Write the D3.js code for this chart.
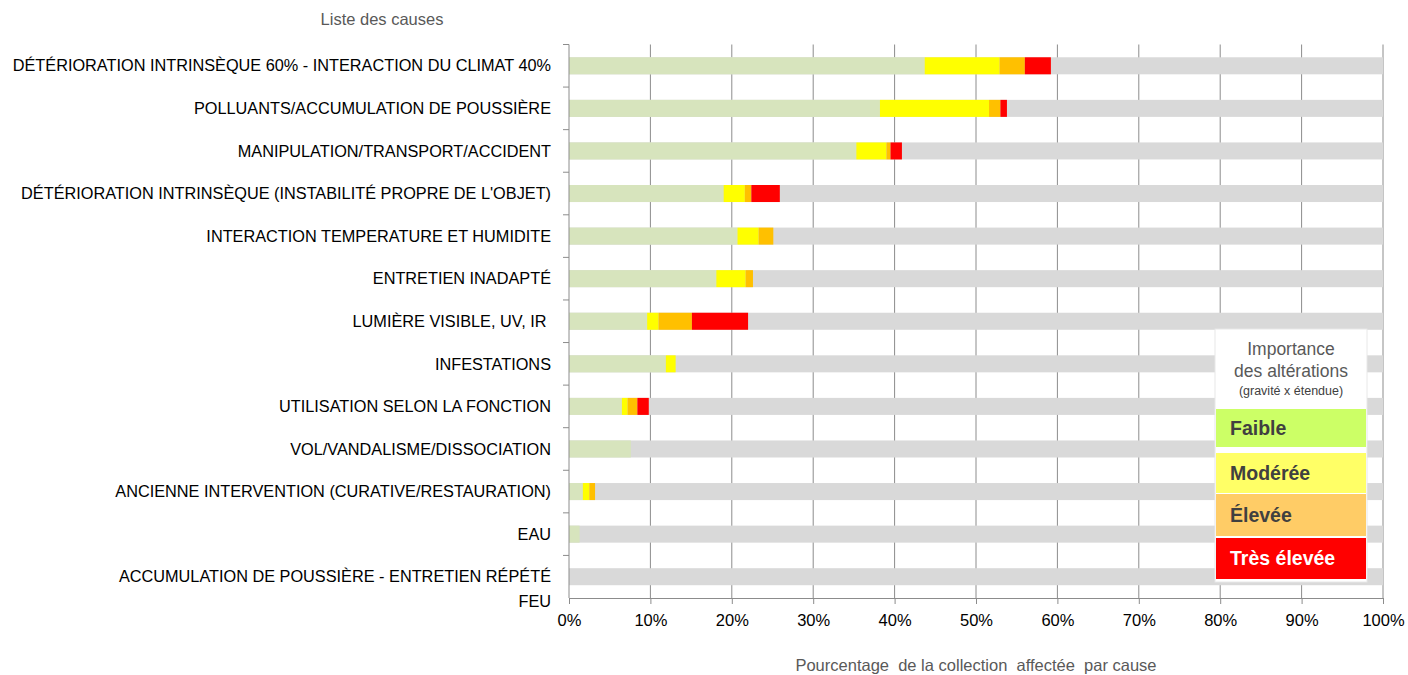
<!DOCTYPE html>
<html>
<head>
<meta charset="utf-8">
<script src="https://cdn.jsdelivr.net/npm/d3@7"></script>
<style>
  body { margin: 0; background: #fff; }
  svg { font-family: "Liberation Sans", Arial, sans-serif; }
</style>
</head>
<body>
<svg id="chart" width="1408" height="675"></svg>
<script>
// categories, top to bottom
var causes = [
  "DÉTÉRIORATION INTRINSÈQUE 60% - INTERACTION DU CLIMAT 40%",
  "POLLUANTS/ACCUMULATION DE POUSSIÈRE",
  "MANIPULATION/TRANSPORT/ACCIDENT",
  "DÉTÉRIORATION INTRINSÈQUE (INSTABILITÉ PROPRE DE L'OBJET)",
  "INTERACTION TEMPERATURE ET HUMIDITE",
  "ENTRETIEN INADAPTÉ",
  "LUMIÈRE VISIBLE, UV, IR ",
  "INFESTATIONS",
  "UTILISATION SELON LA FONCTION",
  "VOL/VANDALISME/DISSOCIATION",
  "ANCIENNE INTERVENTION (CURATIVE/RESTAURATION)",
  "EAU",
  "ACCUMULATION DE POUSSIÈRE - ENTRETIEN RÉPÉTÉ"
];
var lastLabel = "FEU";

// % of collection per level of alteration
var faible     = [43.7, 38.2, 35.3, 19.0, 20.7, 18.1, 9.6, 11.9, 6.5, 7.6, 1.7, 1.3, 0];
var moderee    = [9.2, 13.4, 3.7, 2.6, 2.6, 3.6, 1.4, 1.2, 0.7, 0, 0.8, 0, 0];
var elevee     = [3.1, 1.4, 0.5, 0.8, 1.8, 0.9, 4.1, 0, 1.2, 0, 0.7, 0, 0];
var tresElevee = [3.2, 0.8, 1.4, 3.5, 0, 0, 6.9, 0, 1.4, 0, 0, 0, 0];

var xTicks = [0, 10, 20, 30, 40, 50, 60, 70, 80, 90, 100];

var legendTitle = ["Importance", "des altérations"];
var legendSub = "(gravité x étendue)";
var legendLabels = ["Faible", "Modérée", "Élevée", "Très élevée"];
var legendColors = ["#ccff66", "#ffff66", "#ffcc66", "#ff0000"];
var legendText = ["#404040", "#404040", "#404040", "#ffffff"];

var keys = ["faible", "moderee", "elevee", "tresElevee"];
var barColors = ["#d7e4bd", "#ffff00", "#ffc000", "#ff0000"];

var PLOT_LEFT = 569, PLOT_RIGHT = 1383, PLOT_TOP = 44.5, PLOT_BOTTOM = 598;
var LABEL_X = 551;

var svg = d3.select("#chart");

var rows = causes.map(function (c, i) {
  return { cause: c, faible: faible[i], moderee: moderee[i], elevee: elevee[i], tresElevee: tresElevee[i] };
});

var x = d3.scaleLinear().domain([0, 100]).range([PLOT_LEFT, PLOT_RIGHT]);
var y = d3.scaleBand().domain(causes).range([PLOT_TOP, PLOT_BOTTOM]).paddingInner(0.6).paddingOuter(0.3);
var yb = d3.scaleBand().domain(causes).range([PLOT_TOP, PLOT_BOTTOM]);

// gridlines
svg.append("g").selectAll("line")
  .data(xTicks.slice(1))
  .join("line")
  .attr("x1", function (d) { return x(d); })
  .attr("x2", function (d) { return x(d); })
  .attr("y1", PLOT_TOP)
  .attr("y2", PLOT_BOTTOM)
  .attr("stroke", "#8c8c8c")
  .attr("stroke-width", 1);

// gray background (rest of the collection)
svg.append("g").selectAll("rect")
  .data(causes)
  .join("rect")
  .attr("x", x(0))
  .attr("width", x(100) - x(0))
  .attr("y", function (d) { return y(d); })
  .attr("height", y.bandwidth())
  .attr("fill", "#d9d9d9");

var stack = d3.stack().keys(keys)(rows);

svg.append("g").selectAll("g")
  .data(stack)
  .join("g")
  .attr("fill", function (d, i) { return barColors[i]; })
  .selectAll("rect")
  .data(function (d) { return d; })
  .join("rect")
  .attr("x", function (d) { return x(d[0]); })
  .attr("width", function (d) { return x(d[1]) - x(d[0]); })
  .attr("y", function (d) { return y(d.data.cause); })
  .attr("height", y.bandwidth());

// y axis line + boundary ticks
var yAxis = svg.append("g");
yAxis.append("line")
  .attr("x1", PLOT_LEFT).attr("x2", PLOT_LEFT)
  .attr("y1", PLOT_TOP).attr("y2", PLOT_BOTTOM)
  .attr("stroke", "#8c8c8c");
yAxis.selectAll("line.tk")
  .data(causes)
  .join("line")
  .attr("class", "tk")
  .attr("x1", PLOT_LEFT - 6).attr("x2", PLOT_LEFT)
  .attr("y1", function (d) { return yb(d); })
  .attr("y2", function (d) { return yb(d); })
  .attr("stroke", "#8c8c8c");

// category labels
svg.append("g").selectAll("text")
  .data(causes)
  .join("text")
  .attr("x", LABEL_X)
  .attr("y", function (d) { return y(d) + y.bandwidth() / 2; })
  .attr("dy", "0.35em")
  .attr("text-anchor", "end")
  .style("white-space", "pre")
  .attr("font-size", 16.3)
  .attr("fill", "#000")
  .text(function (d) { return d; });

svg.append("text")
  .attr("x", LABEL_X)
  .attr("y", PLOT_BOTTOM + 3)
  .attr("dy", "0.35em")
  .attr("text-anchor", "end")
  .attr("font-size", 16.3)
  .attr("fill", "#000")
  .text(lastLabel);

// x axis
var xAxis = d3.axisBottom(x)
  .tickValues(xTicks)
  .tickSize(6)
  .tickPadding(10)
  .tickFormat(function (d) { return d + "%"; });

var gx = svg.append("g")
  .attr("transform", "translate(0," + PLOT_BOTTOM + ")")
  .call(xAxis);
gx.select(".domain").attr("stroke", "#8c8c8c");
gx.selectAll(".tick line").attr("stroke", "#8c8c8c");
gx.selectAll(".tick text")
  .attr("font-size", 16.5)
  .attr("font-family", "Liberation Sans, Arial, sans-serif")
  .attr("fill", "#000");

// axis titles
svg.append("text")
  .attr("x", 382)
  .attr("y", 25)
  .attr("text-anchor", "middle")
  .attr("font-size", 16.5)
  .attr("fill", "#595959")
  .text("Liste des causes");

svg.append("text")
  .attr("x", 976)
  .attr("y", 671)
  .attr("text-anchor", "middle")
  .attr("font-size", 16.5)
  .attr("fill", "#595959")
  .style("white-space", "pre")
  .text("Pourcentage  de la collection  affectée  par cause");

// legend
var lg = svg.append("g");
lg.append("rect")
  .attr("x", 1215).attr("y", 329)
  .attr("width", 152).attr("height", 253)
  .attr("fill", "#fff")
  .attr("stroke", "#e8e8e8");

lg.selectAll("text.tt")
  .data(legendTitle)
  .join("text")
  .attr("class", "tt")
  .attr("x", 1291)
  .attr("y", function (d, i) { return 355 + i * 22; })
  .attr("text-anchor", "middle")
  .attr("font-size", 17.5)
  .attr("fill", "#595959")
  .text(function (d) { return d; });

lg.append("text")
  .attr("x", 1291).attr("y", 395)
  .attr("text-anchor", "middle")
  .attr("font-size", 12.5)
  .attr("fill", "#404040")
  .text(legendSub);

var boxY = [409, 453, 494, 538];
var boxH = [38, 40, 42, 41];

lg.selectAll("rect.bx")
  .data(legendLabels)
  .join("rect")
  .attr("class", "bx")
  .attr("x", 1216)
  .attr("width", 150)
  .attr("y", function (d, i) { return boxY[i]; })
  .attr("height", function (d, i) { return boxH[i]; })
  .attr("fill", function (d, i) { return legendColors[i]; });

lg.selectAll("text.lb")
  .data(legendLabels)
  .join("text")
  .attr("class", "lb")
  .attr("x", 1230)
  .attr("y", function (d, i) { return boxY[i] + boxH[i] / 2; })
  .attr("dy", "0.35em")
  .attr("font-size", 19.5)
  .attr("font-weight", "bold")
  .attr("fill", function (d, i) { return legendText[i]; })
  .text(function (d) { return d; });
</script>
</body>
</html>
